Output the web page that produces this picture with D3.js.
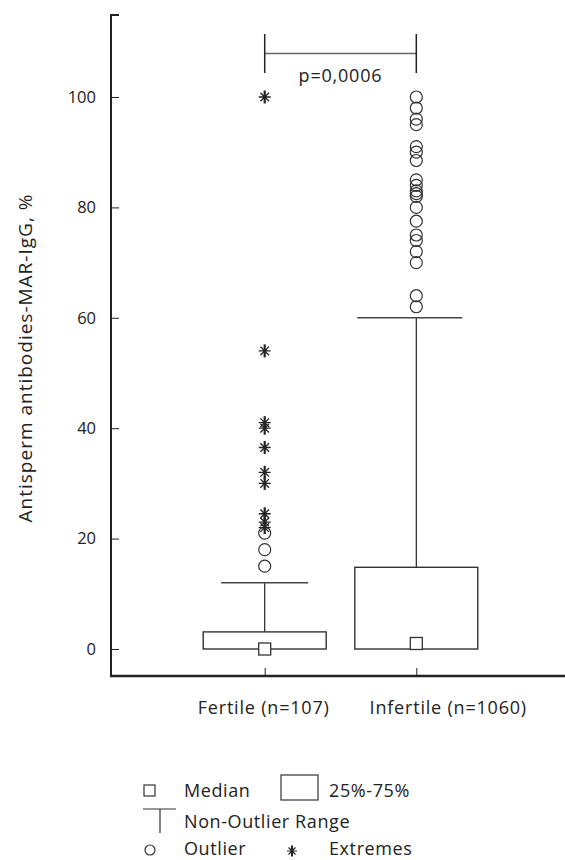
<!DOCTYPE html>
<html><head><meta charset="utf-8">
<script src="https://cdn.jsdelivr.net/npm/d3@7"></script>
<style>
html,body{margin:0;padding:0;background:#fff;}
svg{display:block;}
text{font-family:"Open Sans",sans-serif;fill:#222;}
</style></head>
<body><div id="chart"></div>
<script>
const categories = ["Fertile (n=107)", "Infertile (n=1060)"];
const q1 = [0, 0];
const q3 = [3.1, 14.8];
const medians = [0, 1];
const whiskerHigh = [12, 60];
const outliers = [
  [15, 18, 21],
  [100, 98, 96, 95, 91, 90, 88.5, 85, 84, 83, 82.5, 82, 80, 77.5, 75, 74, 72, 70, 64, 62]
];
const extremes = [
  [100, 54, 41, 40, 36.5, 32, 30, 24.5, 23, 22],
  []
];
const yTicks = [0, 20, 40, 60, 80, 100];
const pLabel = "p=0,0006";
const yTitle = "Antisperm antibodies-MAR-IgG, %";

const W = 565, H = 860;
const svg = d3.select("#chart").append("svg").attr("width", W).attr("height", H);

const y = d3.scaleLinear().domain([0, 100]).range([649, 97]);
const x = d3.scalePoint().domain(categories).range([264.7, 416.3]);
const axisX = 111, axisBottom = 676, axisTop = 15;
const ink = "#222";

// Y axis
const gy = svg.append("g").attr("transform", `translate(${axisX},0)`)
  .call(d3.axisLeft(y).tickValues(yTicks).tickSize(-8).tickSizeOuter(0).tickPadding(15).tickFormat(d3.format("d")));
gy.select(".domain").remove();
gy.selectAll(".tick line").attr("stroke", ink).attr("stroke-width", 1);
gy.selectAll(".tick text").attr("font-size", 16.5).attr("font-family", "Open Sans, sans-serif").attr("fill", ink);
svg.append("path").attr("d", `M${axisX + 8},${axisTop}H${axisX}V${axisBottom}`)
  .attr("fill", "none").attr("stroke", ink).attr("stroke-width", 2);

// X axis
const gx = svg.append("g").attr("transform", `translate(0,${axisBottom})`)
  .call(d3.axisBottom(x).tickSize(-8).tickSizeOuter(0).tickFormat(""));
gx.select(".domain").remove();
gx.selectAll(".tick line").attr("stroke", ink).attr("stroke-width", 1);
svg.append("line").attr("x1", axisX - 1).attr("x2", W).attr("y1", axisBottom).attr("y2", axisBottom)
  .attr("stroke", ink).attr("stroke-width", 2.5);

// category labels
const labelOffsets = [-1, 32];
svg.selectAll(".cat").data(categories).join("text")
  .attr("x", (d, i) => x(d) + labelOffsets[i]).attr("y", 714)
  .attr("text-anchor", "middle").attr("font-size", 18).attr("letter-spacing", 0.8).text(d => d);

// Y title
svg.append("text").attr("transform", `translate(32,${358}) rotate(-90)`)
  .attr("text-anchor", "middle").attr("font-size", 19).attr("letter-spacing", 1).text(yTitle);

const boxW = 123, capLeft = [43.5, 59], capRight = [43.5, 46];
categories.forEach((c, i) => {
  const cx = x(c);
  const g = svg.append("g");
  // whisker
  g.append("line").attr("x1", cx).attr("x2", cx).attr("y1", y(q3[i])).attr("y2", y(whiskerHigh[i]))
    .attr("stroke", ink).attr("stroke-width", 1.2);
  g.append("line").attr("x1", cx - capLeft[i]).attr("x2", cx + capRight[i])
    .attr("y1", y(whiskerHigh[i])).attr("y2", y(whiskerHigh[i]))
    .attr("stroke", "#444").attr("stroke-width", 1.6);
  // box
  g.append("rect").attr("x", cx - boxW / 2).attr("width", boxW)
    .attr("y", y(q3[i])).attr("height", y(q1[i]) - y(q3[i]))
    .attr("fill", "none").attr("stroke", "#333").attr("stroke-width", 1.4);
  // median
  g.append("rect").attr("x", cx - 6).attr("y", y(medians[i]) - 6).attr("width", 12).attr("height", 12)
    .attr("fill", "#fff").attr("stroke", "#333").attr("stroke-width", 1.3);
  // outliers
  g.selectAll(".o").data(outliers[i]).join("circle")
    .attr("cx", cx).attr("cy", d => y(d)).attr("r", 6)
    .attr("fill", "none").attr("stroke", "#333").attr("stroke-width", 1.2);
  // extremes
  const star = g.selectAll(".e").data(extremes[i]).join("g")
    .attr("transform", d => `translate(${cx},${y(d)})`);
  star.append("path").attr("d", "M-6,0H6M-4.3,-4.3L4.3,4.3M-4.3,4.3L4.3,-4.3")
    .attr("stroke", ink).attr("stroke-width", 1.3).attr("fill", "none");
  star.append("path").attr("d", "M0,-6.5V6.5")
    .attr("stroke", ink).attr("stroke-width", 2.2).attr("fill", "none");
});

// significance bracket
const bY = 53.5;
svg.append("line").attr("x1", x(categories[0])).attr("x2", x(categories[1])).attr("y1", bY).attr("y2", bY)
  .attr("stroke", "#666").attr("stroke-width", 1.5);
[0, 1].forEach(i => svg.append("line").attr("x1", x(categories[i])).attr("x2", x(categories[i]))
  .attr("y1", 34).attr("y2", 73).attr("stroke", ink).attr("stroke-width", 1.5));
svg.append("text").attr("x", (x(categories[0]) + x(categories[1])) / 2).attr("y", 82)
  .attr("text-anchor", "middle").attr("font-size", 18).attr("letter-spacing", 0.8).text(pLabel);

// legend
const lg = svg.append("g");
const fs = 18, ls = 0.6;
lg.append("rect").attr("x", 144).attr("y", 785).attr("width", 11).attr("height", 11)
  .attr("fill", "none").attr("stroke", "#333").attr("stroke-width", 1.2);
lg.append("text").attr("x", 184).attr("y", 797).attr("font-size", fs).attr("letter-spacing", ls).text("Median");
lg.append("rect").attr("x", 281).attr("y", 775).attr("width", 37).attr("height", 25)
  .attr("fill", "none").attr("stroke", "#333").attr("stroke-width", 1.2);
lg.append("text").attr("x", 329).attr("y", 797).attr("font-size", fs).attr("letter-spacing", ls).text("25%-75%");
lg.append("path").attr("d", "M143,809H176M160,809V833").attr("stroke", "#333").attr("stroke-width", 1.2).attr("fill", "none");
lg.append("text").attr("x", 184).attr("y", 828).attr("font-size", fs).attr("letter-spacing", ls).text("Non-Outlier Range");
lg.append("circle").attr("cx", 150).attr("cy", 850).attr("r", 5).attr("fill", "none").attr("stroke", "#333").attr("stroke-width", 1.2);
lg.append("text").attr("x", 184).attr("y", 855).attr("font-size", fs).attr("letter-spacing", ls).text("Outlier");
const ls2 = lg.append("g").attr("transform", "translate(292,851)");
ls2.append("path").attr("d", "M-5,0H5M-3.5,-3.5L3.5,3.5M-3.5,3.5L3.5,-3.5")
  .attr("stroke", ink).attr("stroke-width", 1.2).attr("fill", "none");
ls2.append("path").attr("d", "M0,-5.5V5.5").attr("stroke", ink).attr("stroke-width", 2).attr("fill", "none");
lg.append("text").attr("x", 329).attr("y", 855).attr("font-size", fs).attr("letter-spacing", ls).text("Extremes");
</script></body></html>
